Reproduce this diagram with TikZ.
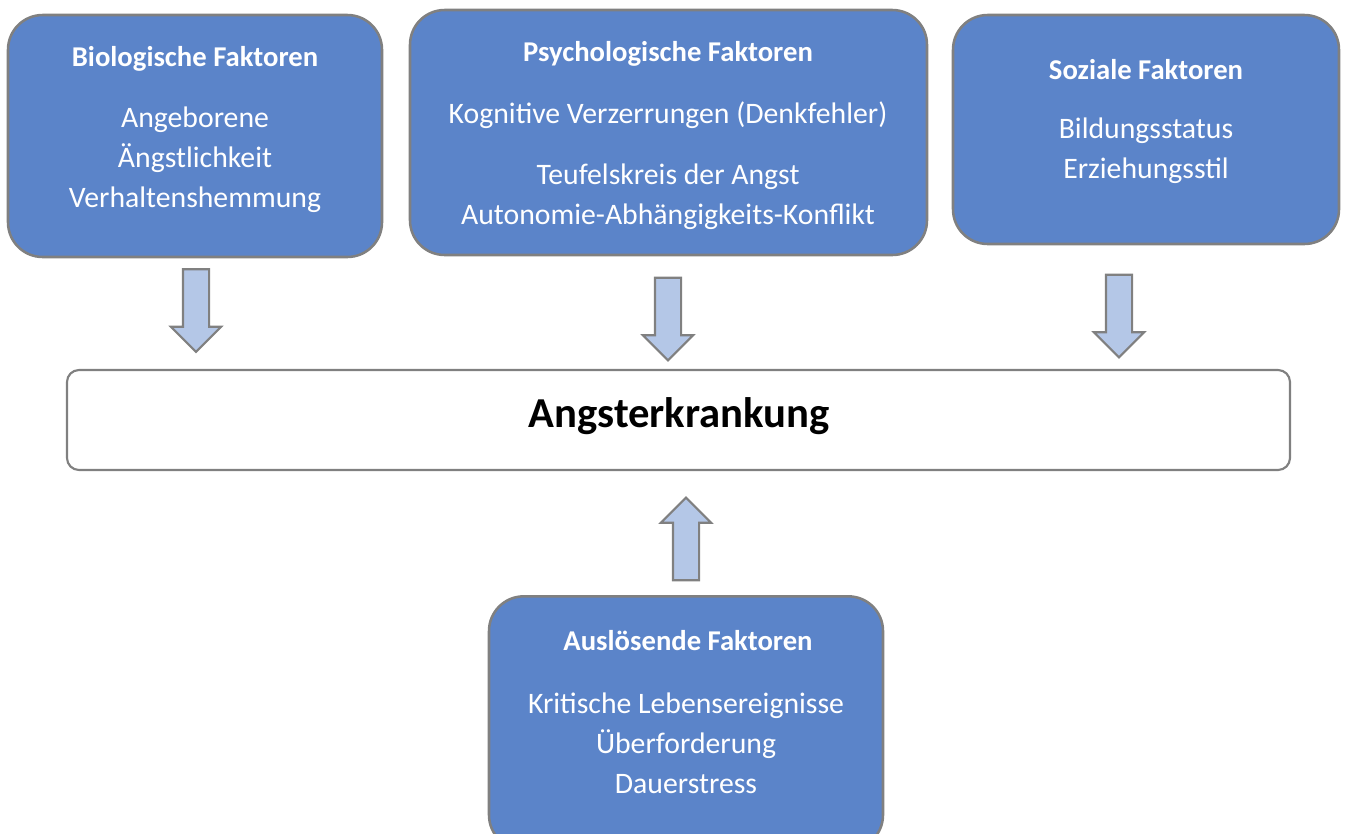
\documentclass[tikz,border=0pt]{standalone}
\usepackage{fontspec}
\setmainfont{Carlito}
\usetikzlibrary{shapes.arrows}

\definecolor{boxblue}{HTML}{5B84C9}
\definecolor{arrowblue}{HTML}{B4C7E7}
\definecolor{rimgray}{HTML}{808080}

\tikzset{
  factor/.style={draw=rimgray, line width=1.9pt, fill=boxblue, rounded corners=26pt, inner sep=0pt},
  head/.style={text=white, font=\fontsize{21.5}{26}\selectfont\bfseries},
  items/.style={text=white, align=center, font=\fontsize{22.3}{30}\selectfont},
  blockarrow/.style={shape=single arrow, draw=rimgray, line width=1.6pt, fill=arrowblue,
    inner xsep=0pt, inner ysep=9pt, minimum width=36pt, minimum height=62pt,
    single arrow head extend=9pt, single arrow head indent=0pt}
}

\begin{document}
\begin{tikzpicture}[x=0.75pt, y=-0.75pt]

                \useasboundingbox (0,0) rectangle (1346,833);

                \node[factor, minimum width=280.5pt, minimum height=181.5pt] (1) at (195,136) {};
                \node[factor, minimum width=387.75pt, minimum height=183.75pt] (2) at (668.5,132.5) {};
                \node[factor, minimum width=289.5pt, minimum height=171.75pt] (3) at (1146,129.5) {};
                \node[factor, minimum width=295.5pt, minimum height=190pt] (4) at (686,723) {};
                \node[draw=rimgray, line width=1.6pt, fill=white, rounded corners=9pt,
                      minimum width=917.25pt, minimum height=75pt] (5) at (678.5,420) {};

                \node[head] (1h) at (195,59) {Biologische Faktoren};
                \node[items] (1t) at (195,160) {Angeborene\\Ängstlichkeit\\Verhaltenshemmung};

                \node[head] (2h) at (668,54) {Psychologische Faktoren};
                \node[items] (2t) at (668,115) {Kognitive Verzerrungen (Denkfehler)};
                \node[items] (2u) at (668,197) {Teufelskreis der Angst\\Autonomie-Abhängigkeits-Konflikt};

                \node[head] (3h) at (1146,70) {Soziale Faktoren};
                \node[items] (3t) at (1146,151) {Bildungsstatus\\Erziehungsstil};

                \node[head] (4h) at (688,641) {Auslösende Faktoren};
                \node[items] (4t) at (686,743) {Kritische Lebensereignisse\\Überforderung\\Dauerstress};

                \node[font=\fontsize{32}{38}\selectfont\bfseries] (5t) at (679,416) {Angsterkrankung};

                \node[blockarrow, rotate=-90] (a1) at (196,304) {};
                \node[blockarrow, rotate=-90] (a2) at (668,312.5) {};
                \node[blockarrow, rotate=-90] (a3) at (1119,309.5) {};
                \node[blockarrow, rotate=90] (a4) at (686,545.5) {};

            \end{tikzpicture}
\end{document}
